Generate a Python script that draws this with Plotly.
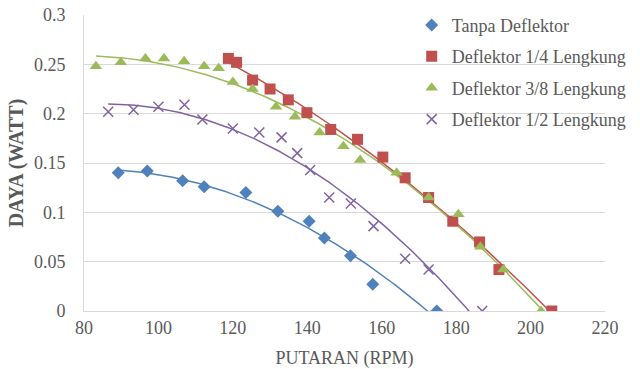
import numpy as np
import plotly.graph_objects as go

# Data
tanpa_rpm = [89.2, 97.0, 106.5, 112.3, 123.5, 132.1, 140.5, 144.6, 151.6, 157.6, 174.8]
tanpa_daya = [0.140, 0.142, 0.132, 0.126, 0.120, 0.101, 0.091, 0.074, 0.056, 0.027, 0.0]

d14_rpm = [118.8, 121.0, 125.3, 130.0, 134.9, 139.9, 146.3, 153.5, 160.3, 166.3, 172.6, 179.1, 186.3, 191.5, 205.7]
d14_daya = [0.256, 0.252, 0.234, 0.225, 0.214, 0.201, 0.184, 0.174, 0.156, 0.135, 0.115, 0.091, 0.070, 0.042, 0.0]

d38_rpm = [83.2, 89.9, 96.5, 101.5, 106.9, 112.3, 116.2, 120.0, 125.3, 131.6, 136.7, 143.3, 149.7, 154.2, 164.0, 172.6, 180.6, 186.5, 192.7, 202.8]
d38_daya = [0.248, 0.252, 0.256, 0.256, 0.253, 0.248, 0.246, 0.232, 0.225, 0.207, 0.197, 0.181, 0.167, 0.153, 0.140, 0.115, 0.098, 0.065, 0.042, 0.0]

d12_rpm = [86.5, 93.3, 100.0, 107.0, 111.8, 120.0, 127.1, 133.1, 137.3, 140.8, 145.9, 151.7, 157.8, 166.3, 172.6, 187.0]
d12_daya = [0.202, 0.204, 0.207, 0.209, 0.194, 0.185, 0.181, 0.176, 0.160, 0.143, 0.115, 0.109, 0.086, 0.053, 0.042, 0.0]

names = ["Tanpa Deflektor", "Deflektor 1/4 Lengkung", "Deflektor 3/8 Lengkung", "Deflektor 1/2 Lengkung"]
colors = ["#4F81BD", "#C0504D", "#9BBB59", "#8064A2"]
symbols = ["diamond", "square", "triangle-up", "x-thin-open"]
sizes = [10, 11, 11, 10]

series = [(tanpa_rpm, tanpa_daya), (d14_rpm, d14_daya), (d38_rpm, d38_daya), (d12_rpm, d12_daya)]

FONT = "Liberation Serif"
GRAY = "#595959"

fig = go.Figure()

# Polynomial (order 2) trendlines, as in the spreadsheet chart
for (xs, ys), c in zip(series, colors):
    coef = np.polyfit(xs, ys, 2)
    xt = np.linspace(min(xs), max(xs), 200)
    yt = np.polyval(coef, xt)
    fig.add_trace(go.Scatter(x=xt, y=yt, mode="lines", line=dict(color=c, width=1.5),
                             showlegend=False, hoverinfo="skip"))

for i, ((xs, ys), n, c, s, sz) in enumerate(zip(series, names, colors, symbols, sizes)):
    marker = dict(color=c, symbol=s, size=sz)
    if s == "x-thin-open":
        marker["line"] = dict(color=c, width=1.5)
    fig.add_trace(go.Scatter(x=xs, y=ys, mode="markers", name=n, marker=marker,
                             legendgroup=f"g{i}"))

fig.update_layout(
    width=640, height=369,
    margin=dict(l=84, r=35, t=15, b=58, autoexpand=False),
    paper_bgcolor="white", plot_bgcolor="white",
    font=dict(family=FONT, size=18, color=GRAY),
    legend=dict(x=0.629, y=1.028, xanchor="left", yanchor="top",
                bgcolor="rgba(0,0,0,0)", font=dict(family=FONT, size=18, color=GRAY),
                tracegroupgap=5, itemwidth=30),
    xaxis=dict(range=[80, 220], dtick=20, showgrid=False, zeroline=False, automargin=False,
               showline=True, linecolor="#D9D9D9", linewidth=1,
               tickfont=dict(family=FONT, size=18, color=GRAY),
               title=dict(text="PUTARAN (RPM)", font=dict(family=FONT, size=18, color=GRAY), standoff=15)),
    yaxis=dict(range=[0, 0.3], dtick=0.05, showgrid=True, gridcolor="#D9D9D9", gridwidth=1,
               zeroline=False, showline=True, linecolor="#D9D9D9", linewidth=1, automargin=False,
               tickfont=dict(family=FONT, size=18, color=GRAY), ticklabelstandoff=14,
               title=dict(text="<b>DAYA (WATT)</b>", font=dict(family=FONT, size=20, color=GRAY), standoff=4)),
)

fig.write_html("out.html", config={"displayModeBar": False},
               post_script="document.body.style.margin='0';")
